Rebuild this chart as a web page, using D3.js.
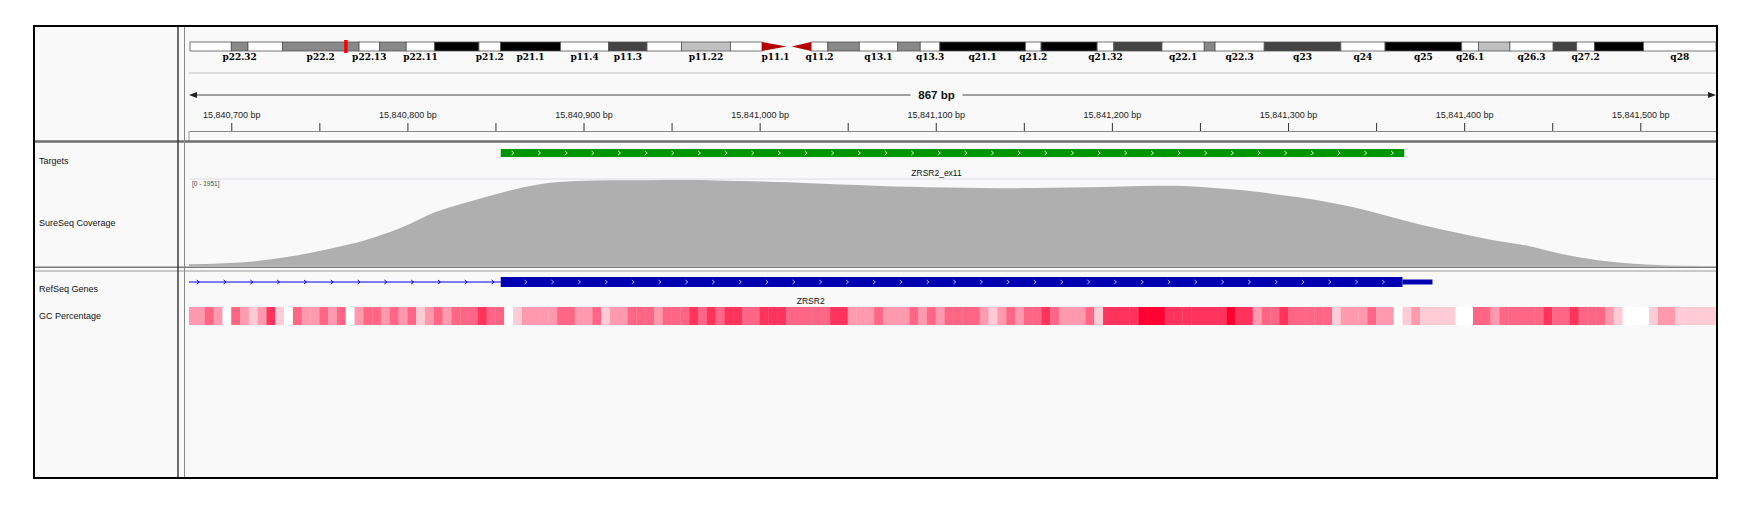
<!DOCTYPE html>
<html lang="en">
<head>
<meta charset="UTF-8">
<title>ZRSR2_ex11 - SureSeq Coverage</title>
<style>
    body { margin: 0; padding: 0; background: #fff; }
    text { font-family: "Liberation Sans", Arial, sans-serif; }
    .name { font-size: 9px; fill: #111; }
    .band-label { font-family: "DejaVu Serif", serif; font-weight: bold; font-size: 9px; fill: #000; }
    .ruler .tick text { font-family: "Liberation Sans", Arial, sans-serif; font-size: 9px; fill: #222; }
    .ruler .tick line { stroke: #333; }
    .ruler .domain { stroke: #888; }
</style>
</head>
<body>
<script src="https://d3js.org/d3.v7.min.js"></script>
<script>
// ---- data ----
const chrom = "chrX";
const regionStart = 15840676;
const regionEnd = 15841543;
const chrLength = 155.27;          // Mb
const markerMb = 15.84;            // current locus on the ideogram

// chrX cytobands (Mb)
const bandNames  = ["p22.33","p22.32","p22.31","p22.2","p22.13","p22.12","p22.11","p21.3","p21.2","p21.1",
                    "p11.4","p11.3","p11.23","p11.22","p11.21","p11.1","q11.1","q11.2","q12","q13.1",
                    "q13.2","q13.3","q21.1","q21.2","q21.31","q21.32","q21.33","q22.1","q22.2","q22.3",
                    "q23","q24","q25","q26.1","q26.2","q26.3","q27.1","q27.2","q27.3","q28"];
const bandStarts = [0, 4.2, 5.9, 9.4, 17.2, 19.3, 22.0, 24.9, 29.4, 31.6,
                    37.7, 42.6, 46.5, 50.0, 55.0, 58.2, 60.95, 63.2, 64.9, 68.1,
                    72.0, 74.3, 76.3, 85.0, 86.6, 92.3, 94.0, 98.9, 103.2, 104.3,
                    109.3, 117.1, 121.6, 129.4, 131.1, 134.3, 138.7, 141.1, 142.9, 147.9];
const bandStains = ["gneg","gpos50","gneg","gpos50","gneg","gpos50","gneg","gpos100","gneg","gpos100",
                    "gneg","gpos75","gneg","gpos25","gneg","acen","acen","gneg","gpos50","gneg",
                    "gpos50","gneg","gpos100","gneg","gpos100","gneg","gpos75","gneg","gpos50","gneg",
                    "gpos75","gneg","gpos100","gneg","gpos25","gneg","gpos75","gneg","gpos100","gneg"];
const shownLabels = ["p22.32","p22.2","p22.13","p22.11","p21.2","p21.1","p11.4","p11.3","p11.22","p11.1",
                     "q11.2","q13.1","q13.3","q21.1","q21.2","q21.32","q22.1","q22.3","q23","q24",
                     "q25","q26.1","q26.3","q27.2","q28"];

// ruler ticks
const tickStep = 50;
const labelStep = 100;

// Targets track
const targetNames  = ["ZRSR2_ex11"];
const targetStarts = [15840853];
const targetEnds   = [15841366];

// RefSeq gene (last exon in view, intron runs off the left edge)
const geneName = "ZRSR2";
const geneTxStart = 15808595;
const exonStart = 15840853;
const cdsEnd = 15841365;
const geneTxEnd = 15841382;

// SureSeq coverage, one sample every 20 bp from covStart
const covMax = 1951;
const covStart = 15840676;
const covStep = 20;
const covDepth = [38, 62, 118, 230, 390, 584, 860, 1225, 1470, 1690,
                  1860, 1926, 1946, 1945, 1950, 1942, 1922, 1898, 1868, 1838,
                  1802, 1788, 1774, 1765, 1768, 1780, 1795, 1815, 1820, 1775,
                  1710, 1610, 1500, 1343, 1140, 928, 755, 588, 460, 264,
                  132, 50, 11, 0, 0];

// GC percentage, 5 bp windows from gcStart
const gcStart = 15840675;
const gcWindow = 5;
const gcValues = [40,40,60,40,0,60,40,20,40,80,
                  20,0,60,40,40,60,40,60,0,40,
                  60,60,40,60,40,60,20,40,60,40,
                  60,60,60,80,60,60,0,20,40,40,
                  40,40,60,60,40,40,60,20,40,40,
                  60,60,60,40,60,60,60,80,60,80,
                  60,80,80,60,60,80,80,80,60,60,
                  60,60,60,80,80,40,40,40,60,40,
                  40,40,60,40,60,40,60,60,60,60,
                  40,20,40,60,40,60,60,80,60,40,
                  40,40,60,20,80,80,80,80,100,100,
                  100,80,80,80,80,80,80,80,100,80,
                  80,40,60,60,80,60,60,60,60,60,
                  20,40,40,40,60,40,40,0,20,40,
                  20,20,20,20,0,0,60,60,40,60,
                  60,60,60,60,80,60,60,80,60,60,
                  60,40,20,0,0,0,20,40,40,20,
                  20,20,20,20];

const trackNames = ["Targets", "SureSeq Coverage", "RefSeq Genes", "GC Percentage"];

// ---- layout ----
const W = 1752, H = 516;
const box = { x: 34, y: 26, w: 1683, h: 452 };
const nameRight = 178, attrRight = 184.5;
const dataL = 189, dataR = 1716;
const ideo = { y: 42, h: 9 };
const rulerY = 131, spanY = 95;
const labelShift = -16;            // IGV draws these centred labels a bit left
const target = { y: 149, h: 8, labelY: 176 };
const cov = { top: 180, bottom: 266 };
const gene = { y: 282, h: 10, utrH: 5, labelY: 304 };
const gc = { y: 307, h: 18 };
const nameY = [161, 223, 289, 316];

const svg = d3.select("body").append("svg")
    .attr("width", W)
    .attr("height", H);

svg.append("rect").attr("width", W).attr("height", H).attr("fill", "#fff");
svg.append("rect")
    .attr("x", box.x).attr("y", box.y).attr("width", box.w).attr("height", box.h)
    .attr("fill", "#f9f9f9");

svg.append("defs").append("clipPath").attr("id", "data-clip")
    .append("rect").attr("x", dataL).attr("y", 0).attr("width", dataR - dataL).attr("height", H);

// scales
const x = d3.scaleLinear().domain([regionStart, regionEnd]).range([dataL, dataR]);
const xChr = d3.scaleLinear().domain([0, chrLength]).range([dataL + 1, dataR]);
const yCov = d3.scaleLinear().domain([0, covMax]).range([cov.bottom, cov.top]);
const gcColor = d3.scaleLinear().domain([0, 100]).range(["#ffffff", "#ff0033"]);
const stainColor = { gneg: "#ffffff", gpos25: "#c0c0c0", gpos50: "#888888", gpos75: "#444444", gpos100: "#000000", acen: "#b40000" };

// ---- ideogram ----
const bands = bandNames.map((n, i) => ({
    name: n,
    start: bandStarts[i],
    end: i < bandStarts.length - 1 ? bandStarts[i + 1] : chrLength,
    stain: bandStains[i]
}));

const ideoG = svg.append("g");
ideoG.selectAll("rect.band")
    .data(bands.filter(b => b.stain !== "acen"))
    .enter().append("rect")
    .attr("class", "band")
    .attr("x", d => xChr(d.start))
    .attr("y", ideo.y)
    .attr("width", d => xChr(d.end) - xChr(d.start))
    .attr("height", ideo.h)
    .attr("fill", d => stainColor[d.stain])
    .attr("stroke", "#555")
    .attr("stroke-width", 0.8);

// centromere triangles point at each other
ideoG.selectAll("path.acen")
    .data(bands.filter(b => b.stain === "acen"))
    .enter().append("path")
    .attr("fill", stainColor.acen)
    .attr("d", d => {
        const x0 = xChr(d.start), x1 = xChr(d.end);
        const t = ideo.y, b = ideo.y + ideo.h, m = ideo.y + ideo.h / 2;
        if (d.name.startsWith("p")) {
            return `M${x0},${t}L${x1 - 2.5},${m}L${x0},${b}Z`;
        }
        return `M${x1},${t}L${x0 + 2.5},${m}L${x1},${b}Z`;
    });

ideoG.append("rect")
    .attr("x", xChr(markerMb) - 1.5)
    .attr("y", ideo.y - 2)
    .attr("width", 3.5)
    .attr("height", ideo.h + 4)
    .attr("fill", "#ff0000");

ideoG.selectAll("text.band-label")
    .data(bands.filter(b => shownLabels.includes(b.name)))
    .enter().append("text")
    .attr("class", "band-label")
    .attr("x", d => xChr((d.start + d.end) / 2))
    .attr("y", 59.5)
    .attr("text-anchor", "middle")
    .text(d => d.name);

svg.append("line")
    .attr("x1", dataL).attr("x2", dataR).attr("y1", 73).attr("y2", 73)
    .attr("stroke", "#dcdcdc").attr("stroke-width", 2);

// ---- span line ----
const spanText = d3.format(",")(regionEnd - regionStart) + " bp";
svg.append("line")
    .attr("x1", dataL + 4).attr("x2", dataR - 4).attr("y1", spanY).attr("y2", spanY)
    .attr("stroke", "#808080").attr("stroke-width", 1.6);
svg.append("path")
    .attr("d", `M${dataL},${spanY}L${dataL + 8},${spanY - 3}L${dataL + 8},${spanY + 3}Z`)
    .attr("fill", "#222");
svg.append("path")
    .attr("d", `M${dataR},${spanY}L${dataR - 8},${spanY - 3}L${dataR - 8},${spanY + 3}Z`)
    .attr("fill", "#222");
const spanMid = (dataL + dataR) / 2 + labelShift;
svg.append("rect")
    .attr("x", spanMid - 26).attr("y", spanY - 8).attr("width", 52).attr("height", 16)
    .attr("fill", "#f9f9f9");
svg.append("text")
    .attr("x", spanMid).attr("y", spanY + 4)
    .attr("text-anchor", "middle")
    .style("font-size", "11.5px").style("font-weight", "bold").style("fill", "#111")
    .text(spanText);

// ---- ruler ----
const firstTick = Math.ceil(regionStart / tickStep) * tickStep;
const tickVals = d3.range(firstTick, regionEnd, tickStep);
svg.append("g")
    .attr("class", "ruler")
    .attr("transform", `translate(0,${rulerY})`)
    .call(d3.axisTop(x)
        .tickValues(tickVals)
        .tickSize(8)
        .tickSizeOuter(0)
        .tickPadding(5)
        .tickFormat(d => d % labelStep === 0 ? d3.format(",")(d) + " bp" : ""));

// ---- panel frame ----
svg.append("line")
    .attr("x1", dataL).attr("x2", dataL).attr("y1", rulerY).attr("y2", 141)
    .attr("stroke", "#999");
svg.append("line")
    .attr("x1", box.x).attr("x2", box.x + box.w).attr("y1", 141.5).attr("y2", 141.5)
    .attr("stroke", "#6e6e6e").attr("stroke-width", 2.5);
svg.append("line")
    .attr("x1", dataL).attr("x2", dataR).attr("y1", 179).attr("y2", 179)
    .attr("stroke", "#dcdce6").attr("stroke-width", 1);
svg.append("line")
    .attr("x1", box.x).attr("x2", box.x + box.w).attr("y1", 267.3).attr("y2", 267.3)
    .attr("stroke", "#7a7a7a").attr("stroke-width", 1.6);
svg.append("line")
    .attr("x1", box.x).attr("x2", box.x + box.w).attr("y1", 271).attr("y2", 271)
    .attr("stroke", "#9a9a9a").attr("stroke-width", 1.2);
svg.append("line")
    .attr("x1", nameRight).attr("x2", nameRight).attr("y1", box.y).attr("y2", box.y + box.h)
    .attr("stroke", "#333").attr("stroke-width", 1.4);
svg.append("line")
    .attr("x1", attrRight).attr("x2", attrRight).attr("y1", box.y).attr("y2", box.y + box.h)
    .attr("stroke", "#888").attr("stroke-width", 1);

// ---- track names ----
svg.selectAll("text.name")
    .data(trackNames)
    .enter().append("text")
    .attr("class", "name")
    .attr("x", 39)
    .attr("y", (d, i) => nameY[i] + 3)
    .text(d => d);

const dataG = svg.append("g").attr("clip-path", "url(#data-clip)");

// ---- targets ----
const chevron = (g, x0, x1, yc, step, offset, color) => {
    g.selectAll(null)
        .data(d3.range(x0 + offset, x1 - 4, step))
        .enter().append("path")
        .attr("d", d => `M${d - 1.2},${yc - 2}L${d + 1.2},${yc}L${d - 1.2},${yc + 2}`)
        .attr("fill", "none")
        .attr("stroke", color)
        .attr("stroke-width", 1);
};

targetNames.forEach((name, i) => {
    const x0 = x(targetStarts[i]), x1 = x(targetEnds[i]);
    dataG.append("rect")
        .attr("x", x0).attr("y", target.y)
        .attr("width", x1 - x0).attr("height", target.h)
        .attr("fill", "#009600");
    chevron(dataG, x0, x1, target.y + target.h / 2, 26.65, 12, "#d8f5d8");
    dataG.append("text")
        .attr("x", (x0 + x1) / 2 + labelShift).attr("y", target.labelY)
        .attr("text-anchor", "middle")
        .style("font-size", "8.5px").style("fill", "#111")
        .text(name);
});

// ---- coverage ----
const covData = covDepth.map((v, i) => ({ pos: covStart + i * covStep, v: v }));
const area = d3.area()
    .x(d => x(d.pos))
    .y0(cov.bottom)
    .y1(d => yCov(d.v))
    .curve(d3.curveMonotoneX);
dataG.append("path")
    .datum(covData)
    .attr("d", area)
    .attr("fill", "rgb(175,175,175)");
svg.append("text")
    .attr("x", dataL + 3).attr("y", cov.top + 6)
    .style("font-size", "6.5px").style("fill", "#444")
    .text(`[0 - ${covMax}]`);

// ---- RefSeq gene ----
const gx0 = Math.max(x(geneTxStart), dataL);
dataG.append("line")
    .attr("x1", gx0).attr("x2", x(exonStart))
    .attr("y1", gene.y).attr("y2", gene.y)
    .attr("stroke", "#5050f0").attr("stroke-width", 1.6);
chevron(dataG, gx0, x(exonStart), gene.y, 26.8, 9, "#0000c8");
dataG.append("rect")
    .attr("x", x(exonStart)).attr("y", gene.y - gene.h / 2)
    .attr("width", x(cdsEnd) - x(exonStart)).attr("height", gene.h)
    .attr("fill", "#0000b2");
dataG.append("rect")
    .attr("x", x(cdsEnd)).attr("y", gene.y - gene.utrH / 2)
    .attr("width", x(geneTxEnd) - x(cdsEnd)).attr("height", gene.utrH)
    .attr("fill", "#0000b2");
chevron(dataG, x(exonStart), x(cdsEnd), gene.y, 26.8, 25, "#b8b8ff");
dataG.append("text")
    .attr("x", (gx0 + x(geneTxEnd)) / 2).attr("y", gene.labelY)
    .attr("text-anchor", "middle")
    .style("font-size", "8.5px").style("fill", "#111")
    .text(geneName);

// ---- GC percentage ----
dataG.selectAll("rect.gc")
    .data(gcValues)
    .enter().append("rect")
    .attr("class", "gc")
    .attr("x", (d, i) => x(gcStart + i * gcWindow))
    .attr("y", gc.y)
    .attr("width", (d, i) => x(gcStart + (i + 1) * gcWindow) - x(gcStart + i * gcWindow) + 0.3)
    .attr("height", gc.h)
    .attr("fill", d => gcColor(d));

// outer border last
svg.append("rect")
    .attr("x", box.x).attr("y", box.y).attr("width", box.w).attr("height", box.h)
    .attr("fill", "none").attr("stroke", "#000").attr("stroke-width", 2);
</script>
</body>
</html>
